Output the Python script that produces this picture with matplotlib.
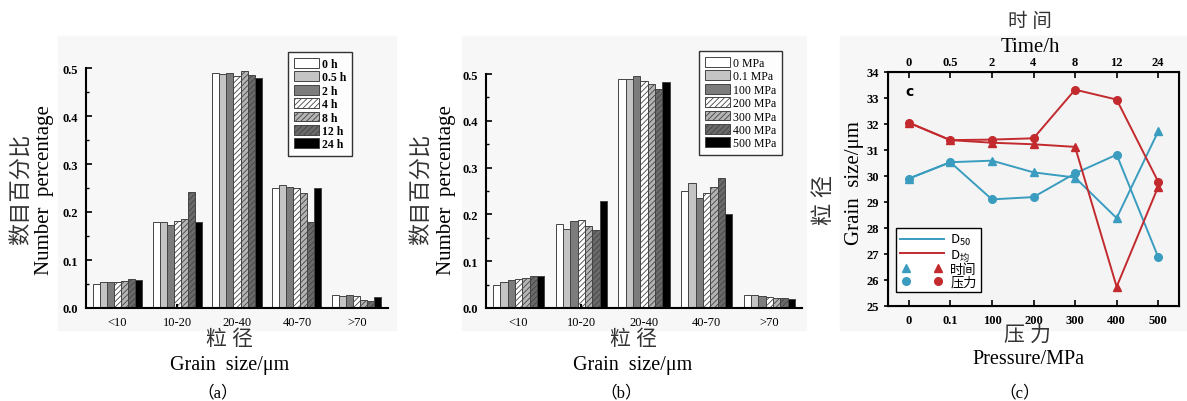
import matplotlib
matplotlib.use('Agg')
import matplotlib.pyplot as plt
from matplotlib.patches import Patch, Rectangle
from matplotlib.lines import Line2D
from matplotlib.legend_handler import HandlerTuple
import numpy as np

plt.rcParams['font.family'] = ['Liberation Serif', 'Noto Sans CJK SC']
plt.rcParams['mathtext.fontset'] = 'custom'
plt.rcParams['mathtext.rm'] = 'Noto Sans CJK SC'
plt.rcParams['hatch.linewidth'] = 0.6
plt.rcParams['hatch.color'] = '#555555'

# ---- data ----
size_bins = ['<10', '10-20', '20-40', '40-70', '>70']

time_labels = ['0 h', '0.5 h', '2 h', '4 h', '8 h', '12 h', '24 h']
time_pct = [
    [0.051, 0.179, 0.490, 0.249, 0.027],   # 0 h
    [0.055, 0.179, 0.488, 0.256, 0.026],   # 0.5 h
    [0.055, 0.173, 0.490, 0.253, 0.027],   # 2 h
    [0.055, 0.181, 0.484, 0.251, 0.025],   # 4 h
    [0.057, 0.185, 0.494, 0.240, 0.017],   # 8 h
    [0.060, 0.242, 0.486, 0.179, 0.015],   # 12 h
    [0.059, 0.179, 0.479, 0.251, 0.023],   # 24 h
]

pressure_labels = ['0 MPa', '0.1 MPa', '100 MPa', '200 MPa', '300 MPa', '400 MPa', '500 MPa']
pressure_pct = [
    [0.050, 0.180, 0.489, 0.250, 0.028],
    [0.056, 0.168, 0.489, 0.267, 0.027],
    [0.059, 0.185, 0.496, 0.235, 0.025],
    [0.061, 0.189, 0.484, 0.245, 0.023],
    [0.065, 0.175, 0.479, 0.258, 0.022],
    [0.068, 0.166, 0.467, 0.278, 0.021],
    [0.068, 0.228, 0.482, 0.200, 0.020],
]

pressure_ticks = ['0', '0.1', '100', '200', '300', '400', '500']
time_ticks = ['0', '0.5', '2', '4', '8', '12', '24']
d50_time = [29.90, 30.53, 30.59, 30.14, 29.94, 28.38, 31.72]
d50_pressure = [29.90, 30.53, 29.10, 29.19, 30.10, 30.82, 26.88]
dmean_time = [32.05, 31.38, 31.28, 31.22, 31.12, 25.74, 29.59]
dmean_pressure = [32.05, 31.38, 31.40, 31.45, 33.32, 32.94, 29.78]

# bar styles: facecolor, hatch
styles = [('white', None), ('#c4c4c4', None), ('#7c7c7c', None),
          ('white', '//////'), ('#b4b4b4', '//////'), ('#6a6a6a', '//////'),
          ('black', None)]

W, H = 1187, 402
fig = plt.figure(figsize=(W / 100, H / 100), dpi=100)

def fx(px):
    return px / W

def fy(py):
    return 1 - py / H

# light gray panel backgrounds
for x0, x1 in [(58, 396), (462, 806), (840, 1187)]:
    fig.patches.append(Rectangle((fx(x0), fy(331)), fx(x1 - x0), (331 - 37) / H,
                                 transform=fig.transFigure, color='#f7f7f7', zorder=-10))


def bar_panel(rect, values, labels, bold_legend, leg_anchor):
    ax = fig.add_axes(rect)
    ax.set_facecolor('none')
    x = np.arange(len(size_bins))
    bw = 0.117
    handles = []
    for i, vals in enumerate(values):
        fc, hatch = styles[i]
        ax.bar(x + (i - 3) * bw, vals, bw, color=fc, edgecolor='#444444',
               linewidth=0.7, hatch=hatch)
        handles.append(Patch(facecolor=fc, edgecolor='#444444', linewidth=0.7, hatch=hatch))
    ax.set_xlim(-0.52, 4.52)
    ax.set_ylim(0, 0.5)
    ax.set_xticks(x)
    ax.set_xticklabels(size_bins, fontsize=9)
    ax.tick_params(axis='x', length=0, pad=6)
    ax.set_yticks([0, 0.1, 0.2, 0.3, 0.4, 0.5])
    ax.set_yticklabels(['0.0', '0.1', '0.2', '0.3', '0.4', '0.5'], fontsize=9, fontweight='bold')
    ax.set_yticks(np.arange(0.05, 0.5, 0.1), minor=True)
    ax.tick_params(axis='y', which='major', direction='in', length=4, width=1.2, pad=6)
    ax.tick_params(axis='y', which='minor', direction='in', length=2, width=1)
    for s in ['top', 'right']:
        ax.spines[s].set_visible(False)
    ax.spines['left'].set_linewidth(1.5)
    ax.spines['bottom'].set_linewidth(1.5)
    ax.plot([1, 1], [0, 0.012], transform=ax.get_xaxis_transform(), color='black', lw=1.5,
            clip_on=False)
    leg = ax.legend(handles, labels, loc='upper right', bbox_to_anchor=leg_anchor,
                    bbox_transform=fig.transFigure, frameon=True, borderaxespad=0,
                    fancybox=False, edgecolor='black', handlelength=2.1, handleheight=0.9,
                    labelspacing=0.12, handletextpad=0.25, borderpad=0.5,
                    prop={'weight': 'bold' if bold_legend else 'normal', 'size': 8.5})
    leg.get_frame().set_linewidth(1.0)
    return ax


axa = bar_panel([fx(86), fy(309), fx(302), (309 - 69) / H], time_pct, time_labels,
                True, (fx(352), fy(53)))
axb = bar_panel([fx(486), fy(309), fx(316), (309 - 75) / H], pressure_pct, pressure_labels,
                False, (fx(782), fy(52)))

# axis titles for a and b
for cx, ycn, yen, tag in [(230, 22, 45, 'a'), (633, 422, 447, 'b')]:
    fig.text(fx(ycn), fy(189), '数目百分比', rotation=90, ha='center', va='center',
             fontsize=16, color='#333333')
    fig.text(fx(yen), fy(190), 'Number  percentage', rotation=90, ha='center', va='center',
             fontsize=15)
    fig.text(fx(cx), fy(340), '粒 径', ha='center', va='center', fontsize=15, color='#333333')
    fig.text(fx(cx), fy(366), 'Grain  size/μm', ha='center', va='center', fontsize=14.5)
    fig.text(fx(cx - 12), fy(393), '（' + tag + '）', ha='center', va='center', fontsize=12)

# ---- panel c ----
blue = '#3a9cbf'
red = '#c22a2e'
axc = fig.add_axes([fx(888), fy(307), fx(291), (307 - 73) / H])
axc.set_facecolor('#f4f4f4')
xc = np.arange(len(pressure_ticks))
axc.plot(xc, d50_time, color=blue, lw=1.4, marker='^', ms=5.5)
axc.plot(xc, d50_pressure, color=blue, lw=1.4, marker='o', ms=5.5)
axc.plot(xc, dmean_time, color=red, lw=1.4, marker='^', ms=5.5)
axc.plot(xc, dmean_pressure, color=red, lw=1.4, marker='o', ms=5.5)
axc.set_xlim(-0.5, 6.5)
axc.set_ylim(25, 34)
axc.set_xticks(xc)
axc.set_xticklabels(pressure_ticks, fontsize=9, fontweight='bold')
axc.set_yticks(range(25, 35))
axc.set_yticklabels([str(v) for v in range(25, 35)], fontsize=9, fontweight='bold')
axc.tick_params(axis='x', direction='in', length=4, width=1.2, pad=6)
axc.tick_params(axis='y', direction='out', length=3, width=1.2)
for s in axc.spines.values():
    s.set_linewidth(1.5)
axc.text(0.06, 0.92, 'c', transform=axc.transAxes, ha='left', va='center',
         fontsize=10, fontweight='bold', family='DejaVu Sans')

top = axc.twiny()
top.set_xlim(axc.get_xlim())
top.set_xticks(xc)
top.set_xticklabels(time_ticks, fontsize=9, fontweight='bold')
top.tick_params(axis='x', direction='in', length=4, width=1.2, pad=3)

# legend: line colours for D50 / D均, marker shapes for time / pressure
h_b_tri = Line2D([], [], color=blue, marker='^', ls='none', ms=5.5)
h_r_tri = Line2D([], [], color=red, marker='^', ls='none', ms=5.5)
h_b_cir = Line2D([], [], color=blue, marker='o', ls='none', ms=5.5)
h_r_cir = Line2D([], [], color=red, marker='o', ls='none', ms=5.5)
leg = axc.legend([Line2D([], [], color=blue, lw=1.4), Line2D([], [], color=red, lw=1.4),
                  (h_b_tri, h_r_tri), (h_b_cir, h_r_cir)],
                 [r'$\mathrm{D_{50}}$', r'$\mathrm{D_{均}}$', '时间', '压力'],
                 handler_map={tuple: HandlerTuple(ndivide=None, pad=1.5)},
                 loc='lower left', bbox_to_anchor=(fx(896), fy(293)), borderaxespad=0,
                 bbox_transform=fig.transFigure, fontsize=9.5, frameon=True, fancybox=False,
                 edgecolor='black', handlelength=3.3, handleheight=0.6, labelspacing=0.0,
                 handletextpad=0.5, borderpad=0.3, facecolor='white', framealpha=1)
leg.get_frame().set_linewidth(1.0)

fig.text(fx(825), fy(200), '粒 径', rotation=90, ha='center', va='center', fontsize=16,
         color='#333333')
fig.text(fx(855), fy(183), 'Grain  size/μm', rotation=90, ha='center', va='center', fontsize=15)
fig.text(fx(1030), fy(22), '时 间', ha='center', va='center', fontsize=14, color='#333333')
fig.text(fx(1030), fy(47), 'Time/h', ha='center', va='center', fontsize=15)
fig.text(fx(1028), fy(336), '压 力', ha='center', va='center', fontsize=15, color='#333333')
fig.text(fx(1028), fy(360), 'Pressure/MPa', ha='center', va='center', fontsize=14.5)
fig.text(fx(1020), fy(393), '（c）', ha='center', va='center', fontsize=12)

fig.savefig('out.png', dpi=100)
